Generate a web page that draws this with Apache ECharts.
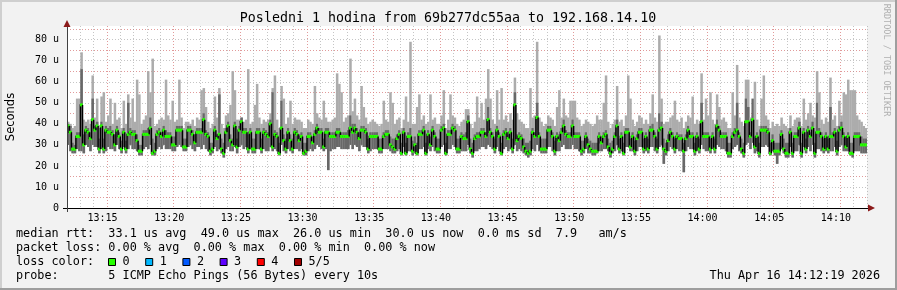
<!DOCTYPE html>
<html><head><meta charset="utf-8">
<script src="https://cdn.jsdelivr.net/npm/echarts@6/dist/echarts.min.js"></script>
<style>html,body{margin:0;padding:0;background:#f2f2f2}#c{width:897px;height:290px}</style>
</head><body><div id="c"></div>
<script>
// time of first sample (seconds of day, 13:12:20) and step (s)
const startSec = 47540;
const stepSec = 10;
const xTickLabels = ['13:15','13:20','13:25','13:30','13:35','13:40','13:45','13:50','13:55','14:00','14:05','14:10'];
const yTickLabels = ['0','10 u','20 u','30 u','40 u','50 u','60 u','70 u','80 u'];

// median rtt (microseconds)
const median = [
39,36,28,28,34,34,49,30,37,36, 33,42,37,39,28,39,28,37,36,36,
35,30,37,34,28,36,28,35,36,35, 35,32,27,27,35,35,35,38,26,27,
35,36,34,37,34,34,34,30,30,37, 37,37,29,29,37,37,35,31,36,36,
36,42,35,34,27,28,37,33,35,28, 26,36,39,32,30,39,29,37,41,36,
36,28,36,28,28,36,36,28,36,35, 34,40,29,35,34,26,38,32,28,36,
32,28,36,35,32,34,26,27,34,34, 31,35,38,36,36,29,36,36,34,34,
34,36,36,34,34,34,34,38,36,38, 36,33,37,37,36,28,34,34,34,34,
28,28,34,35,35,30,29,28,33,35, 26,36,26,34,34,27,30,26,35,35,
37,26,35,30,37,34,28,28,37,38, 26,35,35,38,37,28,28,34,33,33,
41,28,26,33,34,34,36,36,34,42, 36,34,28,37,34,26,35,36,33,36,
28,49,32,34,33,29,27,26,27,36, 34,43,34,28,28,28,37,37,34,27,
34,32,36,39,35,34,34,39,34,34, 34,27,28,34,30,28,27,27,27,34,
31,34,35,29,26,28,34,39,28,34, 26,36,36,29,34,27,33,36,36,28,
34,28,37,37,34,28,37,38,28,27, 32,36,34,28,34,33,33,27,33,37,
34,34,27,34,28,41,34,34,34,28, 34,28,39,37,34,34,34,26,26,34,
36,37,34,28,26,41,41,34,42,29, 34,26,37,37,37,36,26,32,27,27,
27,35,28,26,26,36,26,34,34,38, 26,36,28,37,34,38,26,36,36,34,
28,34,28,34,34,36,27,37,38,34, 29,34,26,26,34,34,34,30,30,30
];
// lowest ping
const pingMin = [
30,27,26,26,28,27,27,26,30,29, 27,30,29,29,26,28,26,27,29,28,
28,27,30,28,26,29,26,28,30,28, 28,27,25,25,28,29,28,30,25,25,
28,29,28,30,28,28,28,27,27,29, 30,29,27,27,29,30,28,27,29,29,
28,30,28,27,25,26,29,27,28,26, 24,28,29,27,27,29,26,29,30,28,
29,26,28,26,26,28,28,26,28,27, 27,29,27,28,27,25,30,27,26,28,
27,26,28,28,27,28,25,25,27,28, 27,28,30,29,28,27,28,18,27,28,
28,29,29,28,28,28,28,30,28,30, 29,27,30,29,29,26,27,28,28,28,
26,26,28,28,28,27,26,26,27,28, 25,29,25,27,27,25,26,25,28,28,
29,25,28,27,29,27,26,26,29,30, 25,28,28,30,29,26,26,27,27,27,
30,26,24,27,27,28,29,29,28,30, 29,28,26,29,27,25,28,29,27,28,
26,30,27,28,27,26,25,24,25,28, 27,30,27,26,26,26,29,29,27,25,
27,27,29,30,28,28,28,30,28,28, 27,25,26,28,26,26,25,25,26,27,
27,28,28,27,24,26,27,30,26,27, 25,29,29,27,27,25,27,29,29,26,
27,26,29,29,27,26,29,30,21,25, 27,29,28,26,28,27,27,17,27,29,
28,28,25,27,26,30,28,27,27,26, 28,26,30,29,28,28,27,24,24,28,
29,30,27,26,24,30,31,28,31,26, 27,24,29,29,30,29,25,27,25,21,
25,28,26,24,24,29,24,27,27,30, 24,29,26,29,27,30,24,28,28,27,
26,27,26,27,27,29,25,29,30,27, 27,27,25,24,27,27,27,26,26,26
];
// top of the dense (dark) smoke
const darkTop = [
40,39,31,30,36,36,66,35,39,38, 36,52,39,41,33,41,33,39,38,39,
37,35,39,36,32,38,32,50,38,37, 37,35,30,30,37,37,38,43,33,31,
37,38,36,39,37,36,36,34,34,39, 39,39,33,33,39,39,37,35,38,38,
38,45,37,36,31,31,39,35,54,33, 31,38,41,35,33,41,33,39,43,38,
38,35,38,33,33,38,38,33,38,37, 36,42,55,37,36,31,51,35,33,38,
35,33,38,37,35,36,31,31,36,36, 34,37,40,38,38,33,38,38,36,36,
36,38,38,36,36,36,37,44,40,40, 38,36,39,39,38,33,36,36,36,36,
33,33,36,37,37,34,33,33,35,37, 31,38,31,36,38,32,34,31,37,37,
39,31,37,34,39,36,33,33,39,40, 31,37,37,40,39,33,33,36,35,36,
44,33,31,35,36,36,38,38,36,48, 38,36,33,39,36,31,37,38,35,38,
33,55,35,36,35,33,31,31,32,38, 36,50,36,33,33,33,39,39,36,32,
36,35,38,42,37,36,36,42,36,36, 36,32,32,36,33,32,31,31,31,36,
34,36,37,33,31,32,36,42,33,36, 31,38,38,33,36,32,35,38,38,33,
36,33,39,40,36,33,45,41,33,31, 35,38,36,33,36,35,35,31,35,39,
36,36,31,36,33,50,36,36,36,33, 36,33,42,39,36,36,36,31,31,36,
38,50,36,33,31,52,48,36,52,34, 36,31,39,39,39,38,31,35,31,31,
31,37,33,31,31,38,31,36,36,41, 31,38,33,39,36,41,31,50,38,36,
33,36,33,48,36,38,32,39,41,36, 34,36,31,31,36,36,36,34,33,33
];
// highest ping
const pingMax = [
41,40,38,39,52,52,74,42,41,42, 40,63,43,52,38,53,55,41,44,52,
40,50,42,43,38,51,40,54,43,52, 41,61,54,40,42,44,65,55,71,39,
40,42,43,42,61,44,42,51,41,42, 61,43,38,41,41,40,42,39,43,42,
56,57,48,41,38,40,53,43,57,40, 38,44,45,49,65,56,42,42,43,41,
42,66,40,41,49,59,43,40,42,41, 42,45,57,63,42,38,58,52,40,43,
51,40,43,42,42,41,38,38,42,41, 40,58,45,43,42,51,43,41,41,42,
43,64,59,55,41,43,44,71,46,52, 44,42,58,48,43,40,41,42,41,40,
39,40,51,42,41,55,50,40,42,43, 38,42,53,41,79,40,40,48,54,42,
44,40,41,54,42,43,40,40,44,56, 38,42,54,44,43,40,39,41,42,47,
47,40,38,41,53,43,50,42,52,66, 52,42,40,56,42,57,42,44,41,45,
42,62,45,42,41,40,38,38,57,43, 44,79,43,41,39,40,44,43,42,39,
48,56,43,52,44,43,51,51,51,43, 42,39,40,42,41,40,39,40,44,42,
42,50,63,41,38,40,42,58,41,42, 39,44,63,52,42,39,41,44,43,40,
42,40,45,54,43,41,82,52,40,41, 41,43,44,51,42,41,43,38,41,44,
43,53,40,42,40,64,42,52,44,55, 42,40,54,48,42,43,41,38,38,55,
44,68,43,41,39,61,61,43,44,60, 42,39,52,63,44,42,38,41,39,40,
39,43,40,39,38,44,39,42,43,43, 39,52,42,45,50,44,43,65,55,42,
40,43,41,62,42,44,39,51,44,55, 54,61,56,56,56,44,42,41,39,38
];

const legendRows = [
  'median rtt:  33.1 us avg  49.0 us max  26.0 us min  30.0 us now  0.0 ms sd  7.9   am/s',
  'packet loss: 0.00 % avg  0.00 % max  0.00 % min  0.00 % now',
  'loss color:',
  'probe:       5 ICMP Echo Pings (56 Bytes) every 10s'
];
const lossLabels = ['0','1','2','3','4','5/5'];
const lossColors = ['#26ff00','#00b8ff','#0059ff','#5e00ff','#ff0000','#a00000'];

const MONO = '"DejaVu Sans Mono", monospace';
const endSec = startSec + 3600;
const GL = 67, GT = 26, GW = 800, GH = 182;

const smokeData = median.map((m, i) => [startSec + i * stepSec, pingMin[i], darkTop[i], pingMax[i]]);
const medData = median.map((m, i) => [startSec + i * stepSec, m, i > 0 ? median[i - 1] : m]);

// grid colour cycles (ticks every 20 s starting at 13:12:20)
const xGridColors = [];
for (let k = 0; k < 15; k++) {
  xGridColors.push(k === 8 ? 'rgba(215,120,120,0.75)' : (k % 3 === 2 ? 'rgba(150,150,150,0.55)' : 'rgba(0,0,0,0)'));
}

const chart = echarts.init(document.getElementById('c'), null, {renderer: 'canvas'});

const graphics = [
  {type:'rect', shape:{x:0,y:0,width:897,height:2}, style:{fill:'#cfcfcf'}, z:100},
  {type:'rect', shape:{x:0,y:0,width:2,height:290}, style:{fill:'#cfcfcf'}, z:100},
  {type:'rect', shape:{x:0,y:288,width:897,height:2}, style:{fill:'#9e9e9e'}, z:100},
  {type:'rect', shape:{x:895,y:0,width:2,height:290}, style:{fill:'#9e9e9e'}, z:100},
  {type:'text', x:448, y:19, style:{text:'Posledni 1 hodina from 69b277dc55aa to 192.168.14.10', font:'13.3px ' + MONO, fill:'#000', align:'center', verticalAlign:'middle'}, z:100},
  {type:'text', x:11, y:117, rotation:Math.PI/2, style:{text:'Seconds', font:'11.5px "DejaVu Sans", sans-serif', fill:'#000', align:'center', verticalAlign:'middle'}, z:100},
  {type:'text', x:886, y:60, rotation:-Math.PI/2, style:{text:'RRDTOOL / TOBI OETIKER', font:'8.5px ' + MONO, fill:'#b0b0b0', align:'center', verticalAlign:'middle'}, z:100},
  {type:'polygon', shape:{points:[[63.5,27],[70.5,27],[67,20]]}, style:{fill:'#8b1a1a'}, z:100},
  {type:'polygon', shape:{points:[[868,204.5],[868,211.5],[875,208]]}, style:{fill:'#8b1a1a'}, z:100},
  {type:'line', shape:{x1:63,y1:208.5,x2:868,y2:208.5}, style:{stroke:'#000',lineWidth:1}, z:90},
  {type:'line', shape:{x1:67.5,y1:212,x2:67.5,y2:24}, style:{stroke:'#404040',lineWidth:1}, z:90},
  {type:'text', x:880, y:276, style:{text:'Thu Apr 16 14:12:19 2026', font:'11.8px ' + MONO, fill:'#000', align:'right', verticalAlign:'middle'}, z:100}
];
legendRows.forEach((t, r) => {
  graphics.push({type:'text', x:16, y:234 + r * 14, style:{text:t, font:'11.8px ' + MONO, fill:'#000', align:'left', verticalAlign:'middle'}, z:100});
});
lossLabels.forEach((l, k) => {
  const bx = 108 + k * 37.2;
  graphics.push({type:'rect', shape:{x:bx + 0.5, y:258.5, width:7, height:7}, style:{fill:lossColors[k], stroke:'#000', lineWidth:1}, z:100});
  graphics.push({type:'text', x:bx + 14.5, y:262, style:{text:l, font:'11.8px ' + MONO, fill:'#000', align:'left', verticalAlign:'middle'}, z:100});
});

chart.setOption({
  animation: false,
  backgroundColor: '#f2f2f2',
  grid: {left: GL, top: GT, width: GW, height: GH, show: true, backgroundColor: '#ffffff', borderWidth: 0},
  xAxis: {
    type: 'value', min: startSec, max: endSec, interval: 20,
    axisLine: {show: false}, axisTick: {show: false},
    axisLabel: {
      show: true, margin: 5, color: '#000', fontFamily: 'DejaVu Sans Mono', fontSize: 10,
      formatter: v => (v % 300 === 0 ? xTickLabels[(v - 47700) / 300] || '' : '')
    },
    splitLine: {show: true, showMinLine: false, showMaxLine: true, lineStyle: {color: xGridColors, type: [1, 2], width: 1}}
  },
  yAxis: {
    type: 'value', min: 0, max: 86.5, interval: 5,
    axisLine: {show: false}, axisTick: {show: false},
    axisLabel: {
      show: true, margin: 8, color: '#000', fontFamily: 'DejaVu Sans Mono', fontSize: 10,
      formatter: v => (v % 10 === 0 ? yTickLabels[v / 10] || '' : '')
    },
    splitLine: {show: true, showMinLine: false, showMaxLine: false, lineStyle: {color: ['rgba(215,120,120,0.75)', 'rgba(150,150,150,0.55)'], type: [1, 2], width: 1}}
  },
  series: [
    {
      type: 'custom', data: smokeData, clip: true, z: 2,
      renderItem: (params, api) => {
        const t = api.value(0);
        const pLo = api.coord([t, api.value(1)]);
        const pDk = api.coord([t, api.value(2)]);
        const pHi = api.coord([t, api.value(3)]);
        const w = api.size([stepSec, 0])[0];
        return {type: 'group', children: [
          {type: 'rect', shape: {x: pLo[0], y: pHi[1], width: w + 0.3, height: pLo[1] - pHi[1]}, style: {fill: '#acacac'}},
          {type: 'rect', shape: {x: pLo[0], y: pDk[1], width: w + 0.3, height: pLo[1] - pDk[1]}, style: {fill: '#686868'}}
        ]};
      }
    },
    {
      type: 'custom', data: medData, clip: true, z: 3,
      renderItem: (params, api) => {
        const t = api.value(0);
        const p = api.coord([t, api.value(1)]);
        const pp = api.coord([t, api.value(2)]);
        const w = api.size([stepSec, 0])[0];
        return {type: 'group', children: [
          {type: 'polyline', shape: {points: [[p[0], pp[1]], [p[0], p[1]], [p[0] + w, p[1]]]}, style: {stroke: '#000', lineWidth: 1.4, fill: null}},
          {type: 'rect', shape: {x: p[0] - 0.3, y: p[1] - 1.5, width: w + 0.6, height: 3}, style: {fill: '#26ff00'}}
        ]};
      }
    }
  ],
  graphic: graphics
});
</script></body></html>
